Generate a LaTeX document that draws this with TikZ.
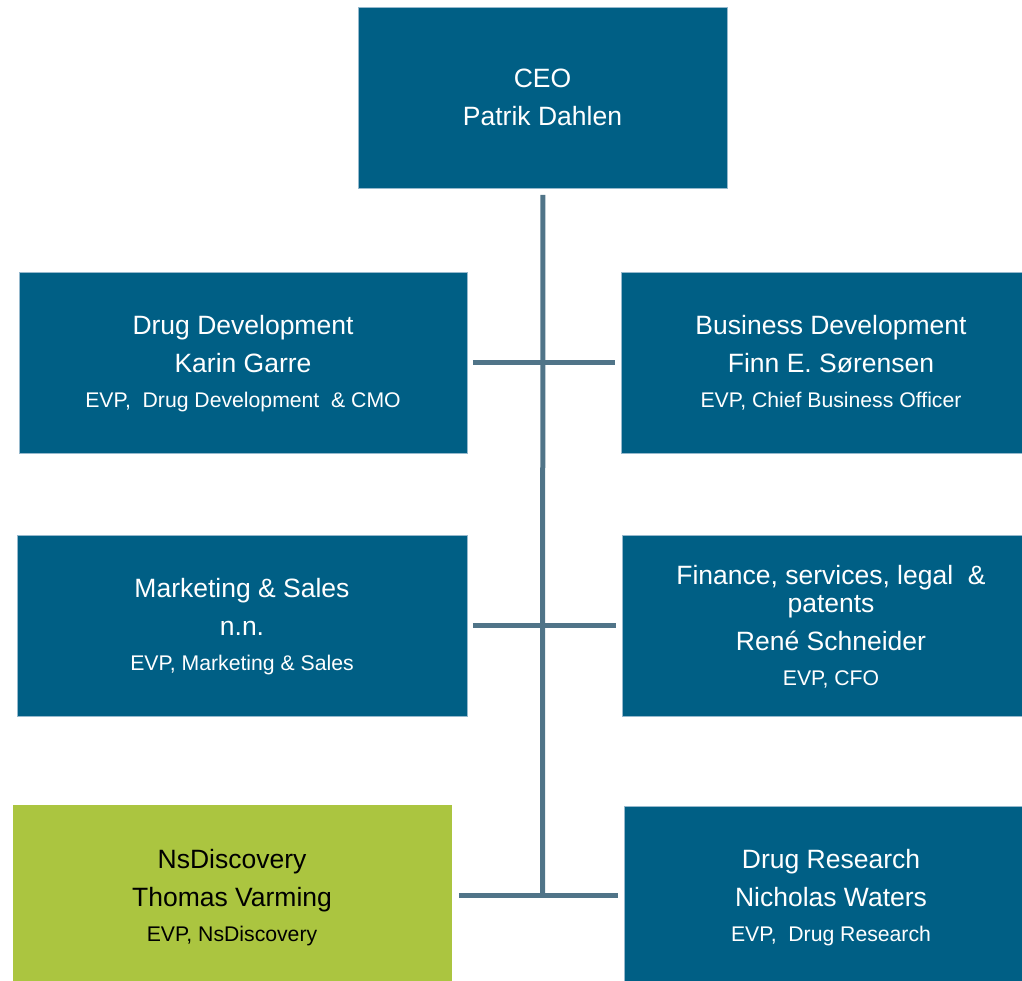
\documentclass[tikz,border=0pt]{standalone}
\usepackage{fontspec}
\setmainfont{Liberation Sans}
\definecolor{boxblue}{RGB}{0,95,133}
\definecolor{boxedge}{RGB}{150,185,205}
\definecolor{boxgreen}{RGB}{171,197,64}
\definecolor{linkgray}{RGB}{80,116,136}
\tikzset{
  unitbox/.style={rectangle, anchor=north west, inner sep=0pt, draw=boxedge, line width=0.8pt},
  bluebox/.style={unitbox, fill=boxblue},
  greenbox/.style={unitbox, fill=boxgreen, draw=none},
  bigtxt/.style={anchor=base, inner sep=0pt, text=white, font=\fontsize{26.5}{30}\selectfont},
  smalltxt/.style={anchor=base, inner sep=0pt, text=white, font=\fontsize{21.2}{24}\selectfont},
  conn/.style={draw=linkgray, line width=5pt},
}
\begin{document}
\begin{tikzpicture}[x=1pt, y=-1pt]
\useasboundingbox (0,0) rectangle (1022,980);

% boxes
\node[bluebox, minimum width=369pt, minimum height=181pt] (ceo) at (358,7) {};
\node[bluebox, minimum width=448pt, minimum height=181pt] (dd) at (19,272) {};
\node[bluebox, minimum width=401pt, minimum height=181pt] (bd) at (621,272) {};
\node[bluebox, minimum width=450pt, minimum height=181pt] (ms) at (17,535) {};
\node[bluebox, minimum width=400pt, minimum height=181pt] (fin) at (622,535) {};
\node[greenbox, minimum width=439pt, minimum height=176pt] (nsd) at (13,805) {};
\node[bluebox, minimum width=398pt, minimum height=176pt] (dr) at (624,806) {};

% connectors
\coordinate (trunk-end) at (542.5,895);
\draw[conn, shorten <=6pt] (ceo.south) -- (trunk-end);
\draw[conn, shorten <=5pt, shorten >=6pt] (dd.east) -- (bd.west);
\draw[conn, shorten <=5pt, shorten >=6pt] (ms.east) -- (fin.west);
\draw[conn, shorten <=6pt, shorten >=6pt] (trunk-end -| nsd.east) -- (trunk-end -| dr.west);

% CEO
\node[bigtxt] (ceo-t1) at (542.5,87) {CEO};
\node[bigtxt] (ceo-t2) at (542.5,125) {Patrik Dahlen};

% Drug Development
\node[bigtxt] (dd-t1) at (243,334) {Drug Development};
\node[bigtxt] (dd-t2) at (243,372) {Karin Garre};
\node[smalltxt] (dd-t3) at (243,407) {EVP,\ \ Drug Development\ \ \& CMO};

% Business Development
\node[bigtxt] (bd-t1) at (831,334) {Business Development};
\node[bigtxt] (bd-t2) at (831,372) {Finn E. Sørensen};
\node[smalltxt] (bd-t3) at (831,407) {EVP, Chief Business Officer};

% Marketing & Sales
\node[bigtxt] (ms-t1) at (242,597) {Marketing \& Sales};
\node[bigtxt] (ms-t2) at (242,635) {n.n.};
\node[smalltxt] (ms-t3) at (242,670) {EVP, Marketing \& Sales};

% Finance
\node[bigtxt] (fin-t1) at (831,584) {Finance, services, legal\ \ \&};
\node[bigtxt] (fin-t2) at (831,612) {patents};
\node[bigtxt] (fin-t3) at (831,650) {René Schneider};
\node[smalltxt] (fin-t4) at (831,685) {EVP, CFO};

% NsDiscovery
\node[bigtxt, text=black] (nsd-t1) at (232,868) {NsDiscovery};
\node[bigtxt, text=black] (nsd-t2) at (232,906) {Thomas Varming};
\node[smalltxt, text=black] (nsd-t3) at (232,941) {EVP, NsDiscovery};

% Drug Research
\node[bigtxt] (dr-t1) at (831,868) {Drug Research};
\node[bigtxt] (dr-t2) at (831,906) {Nicholas Waters};
\node[smalltxt] (dr-t3) at (831,941) {EVP,\ \ Drug Research};
\end{tikzpicture}
\end{document}
